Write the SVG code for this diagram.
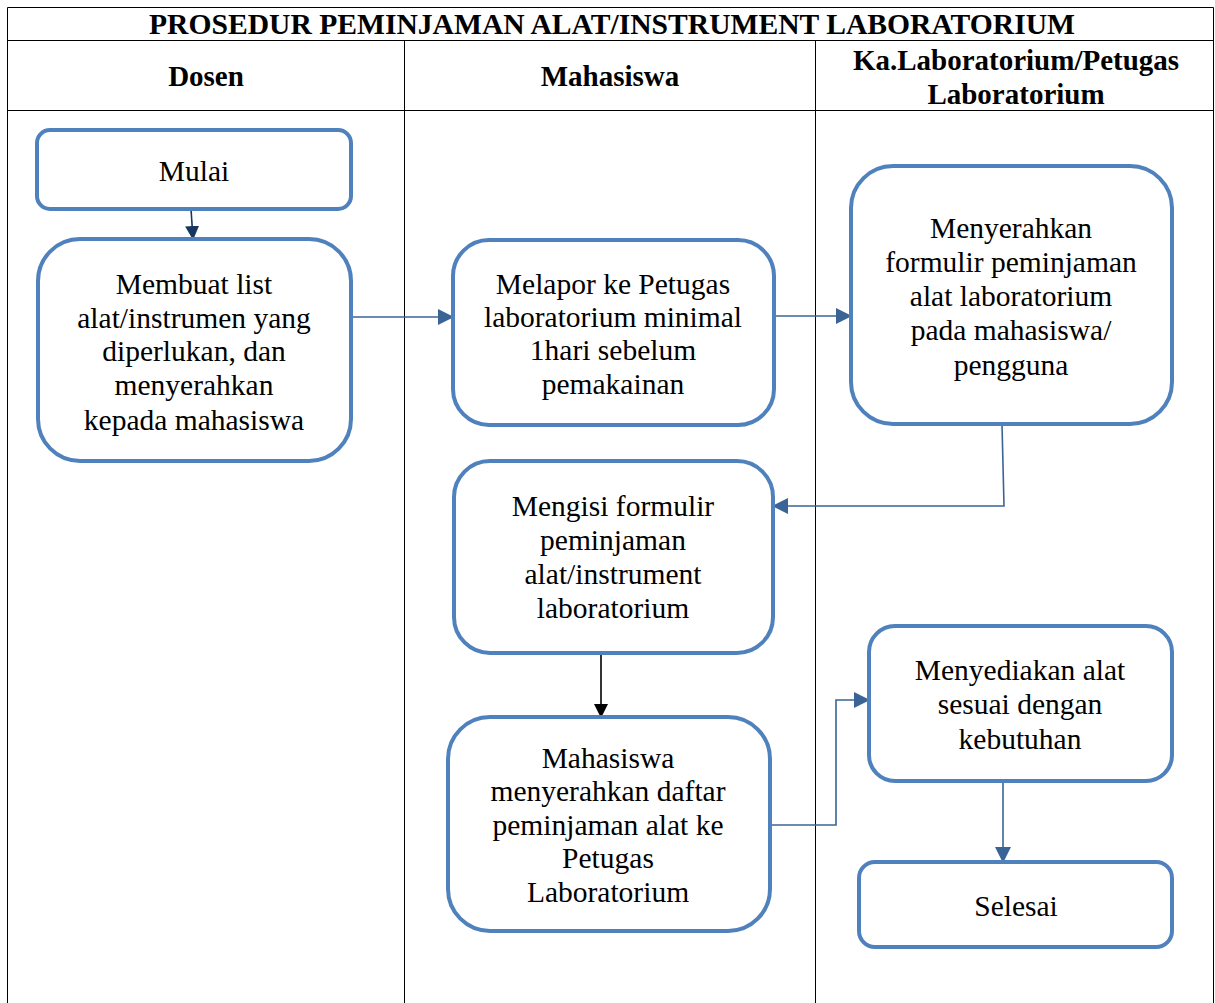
<svg xmlns="http://www.w3.org/2000/svg" width="1215" height="1003" viewBox="0 0 1215 1003">
<style>
.grid{stroke:#000;stroke-width:1;fill:none}
.node{fill:#fff;stroke:#4F81BD;stroke-width:4}
.t{font-family:"Liberation Serif","Times New Roman",serif;font-size:29.5px;fill:#000;text-anchor:middle}
.h{font-family:"Liberation Serif","Times New Roman",serif;font-size:29px;font-weight:bold;fill:#000;text-anchor:middle}
.ttl{font-size:29.6px}
.c{fill:none;stroke:#3A6496;stroke-width:1.6}
</style>
<defs>
<marker id="an" markerWidth="14" markerHeight="14" refX="13" refY="7" orient="auto" markerUnits="userSpaceOnUse" viewBox="0 0 14 14"><path d="M0,0 L14,7 L0,14 z" fill="#17375E"/></marker>
<marker id="ak" markerWidth="14" markerHeight="14" refX="13" refY="7" orient="auto" markerUnits="userSpaceOnUse" viewBox="0 0 14 14"><path d="M0,0 L14,7 L0,14 z" fill="#000"/></marker>
<marker id="am" markerWidth="16" markerHeight="16" refX="15" refY="8" orient="auto" markerUnits="userSpaceOnUse" viewBox="0 0 16 16"><path d="M0,0 L16,8 L0,16 z" fill="#3A6496"/></marker>
</defs>
<rect width="1215" height="1003" fill="#fff"/>
<g id="table">
<path class="grid" d="M7.5,1003 V7.5 H1213.5 V1003 M7.5,40.5 H1213.5 M7.5,110.5 H1213.5 M404.5,40.5 V1003 M815.5,40.5 V1003"/>
<text class="h ttl" x="612" y="34">PROSEDUR PEMINJAMAN ALAT/INSTRUMENT LABORATORIUM</text>
<text class="h" x="206" y="86">Dosen</text>
<text class="h" x="610" y="86">Mahasiswa</text>
<text class="h" x="1016" y="70">Ka.Laboratorium/Petugas</text>
<text class="h" x="1016" y="104">Laboratorium</text>
</g>
<g id="connectors">
<path d="M191,209 L193,239" fill="none" stroke="#17375E" stroke-width="1.6" marker-end="url(#an)"/>
<path class="c" d="M351,317 H453" marker-end="url(#am)"/>
<path class="c" d="M774,316 H851" marker-end="url(#am)"/>
<path class="c" d="M1002,424 L1004,506 H773" marker-end="url(#am)"/>
<path d="M601,653 V717" fill="none" stroke="#000" stroke-width="1.6" marker-end="url(#ak)"/>
<path class="c" d="M770,825 H836 V700 H869" marker-end="url(#am)"/>
<path class="c" d="M1003,781 V862" marker-end="url(#am)"/>
</g>
<g id="mulai">
<rect class="node" x="37" y="130" width="314" height="79" rx="13"/>
<text class="t" x="194" y="181">Mulai</text>
</g>
<g id="membuat">
<rect class="node" x="38" y="239" width="313" height="222" rx="42"/>
<text class="t" x="194" y="294">Membuat list</text>
<text class="t" x="194" y="328">alat/instrumen yang</text>
<text class="t" x="194" y="361">diperlukan, dan</text>
<text class="t" x="194" y="395">menyerahkan</text>
<text class="t" x="194" y="430">kepada mahasiswa</text>
</g>
<g id="melapor">
<rect class="node" x="453" y="240" width="321" height="185" rx="36"/>
<text class="t" x="613" y="294">Melapor ke Petugas</text>
<text class="t" x="613" y="327">laboratorium minimal</text>
<text class="t" x="613" y="360">1hari sebelum</text>
<text class="t" x="613" y="394">pemakainan</text>
</g>
<g id="menyerahkan-formulir">
<rect class="node" x="851" y="166" width="321" height="258" rx="42"/>
<text class="t" x="1011" y="238">Menyerahkan</text>
<text class="t" x="1011" y="272">formulir peminjaman</text>
<text class="t" x="1011" y="306">alat laboratorium</text>
<text class="t" x="1011" y="340">pada mahasiswa/</text>
<text class="t" x="1011" y="375">pengguna</text>
</g>
<g id="mengisi">
<rect class="node" x="454" y="461" width="319" height="192" rx="36"/>
<text class="t" x="613" y="516">Mengisi formulir</text>
<text class="t" x="613" y="550">peminjaman</text>
<text class="t" x="613" y="584">alat/instrument</text>
<text class="t" x="613" y="618">laboratorium</text>
</g>
<g id="mahasiswa-menyerahkan">
<rect class="node" x="448" y="717" width="322" height="214" rx="42"/>
<text class="t" x="608" y="768">Mahasiswa</text>
<text class="t" x="608" y="801">menyerahkan daftar</text>
<text class="t" x="608" y="835">peminjaman alat ke</text>
<text class="t" x="608" y="868">Petugas</text>
<text class="t" x="608" y="902">Laboratorium</text>
</g>
<g id="menyediakan">
<rect class="node" x="869" y="626" width="303" height="155" rx="26"/>
<text class="t" x="1020" y="680">Menyediakan alat</text>
<text class="t" x="1020" y="714">sesuai dengan</text>
<text class="t" x="1020" y="749">kebutuhan</text>
</g>
<g id="selesai">
<rect class="node" x="859" y="862" width="313" height="85" rx="16"/>
<text class="t" x="1016" y="916">Selesai</text>
</g>
</svg>
